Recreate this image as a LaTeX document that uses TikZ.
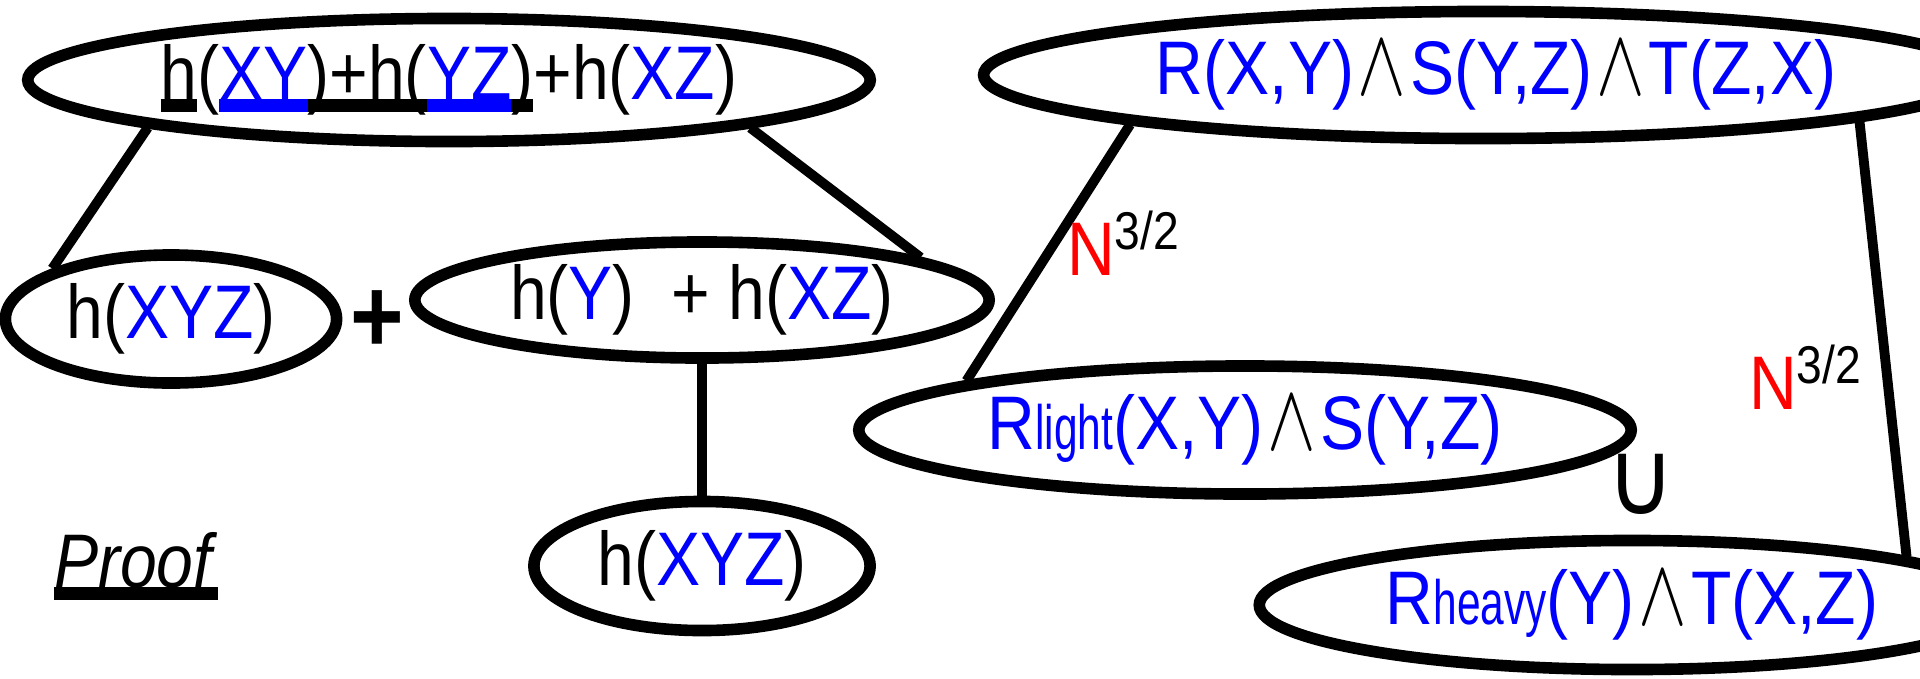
\documentclass[tikz,border=0pt]{standalone}
\usepackage{fontspec}
\setmainfont[FakeStretch=0.87]{Liberation Sans}
\newfontfamily\symfont{DejaVu Sans}
\usetikzlibrary{shapes.geometric}

\newcommand\ulpart[2][black]{{\color{#1}\sbox0{#2}\rlap{\rule[-0.16em]{\wd0}{0.17em}}\usebox0}}
\newcommand\vb[1]{\textcolor{blue}{#1}}
\newcommand\andsym{\hspace{0.05em}{\color{black}\scalebox{1.0}[1.3]{$\wedge$}}\hspace{0.05em}}
\newcommand\rsub[1]{{\fontsize{17.8}{18}\selectfont\scalebox{0.78}[1]{#1}}}
\newcommand\costlabel{\textcolor{red}{N}\textsuperscript{3/2}}

\begin{document}
\begin{tikzpicture}[x=0.01cm,y=-0.01cm,font=\fontsize{21.6}{24}\selectfont,
 oval/.style={draw,ellipse,line width=3.3pt,inner sep=0pt},
 link/.style={line width=2.8pt}]
\useasboundingbox (0,0) rectangle (1920,678);
\node[oval,minimum width=8.42cm,minimum height=1.23cm] (sum) at (449,80)
 {\ulpart{h}(\ulpart[blue]{XY}\ulpart{)+h(}\ulpart[blue]{YZ}\ulpart{)}+h(\vb{XZ})};
\node[oval,minimum width=3.31cm,minimum height=1.28cm] (hxyz) at (171,319) {h(\vb{XYZ})};
\node[font=\fontsize{30}{30}\selectfont\bfseries] (plus) at (377,322) {+};
\node[oval,minimum width=5.74cm,minimum height=1.16cm] (hyxz) at (702,300) {h(\vb{Y})\ \ + h(\vb{XZ})};
\node[oval,minimum width=3.36cm,minimum height=1.29cm] (hxyzlow) at (702,566) {h(\vb{XYZ})};
\draw[link] (sum.189) -- (hxyz.157);
\draw[link] (sum.-9) -- (hyxz.11);
\draw[link] (hyxz.south) -- (hxyzlow.north);
\node (proof) at (136,566) {\ulpart{\textit{Proof}}};

\node[oval,minimum width=9.74cm,minimum height=1.27cm] (query) at (1483,75)
 {\hspace*{0.26cm}\color{blue}R(X,Y)\andsym S(Y,Z)\andsym T(Z,X)};
\node[oval,minimum width=7.72cm,minimum height=1.28cm] (light) at (1245,430)
 {\color{blue}R\rsub{light}(X,Y)\andsym S(Y,Z)};
\node[oval,minimum width=7.45cm,minimum height=1.29cm] (heavy) at (1632,605)
 {\color{blue}R\rsub{heavy}(Y)\andsym T(X,Z)};
\node (cup) at (1641,484) {\scalebox{1.24}[1.37]{\symfont ∪}};
\draw[link] (query.188) -- (light.170);
\draw[link] (query.-7) -- (heavy.10);
\node (costl) at (1124,243) {\costlabel};
\node (costh) at (1806,377) {\costlabel};
\end{tikzpicture}
\end{document}
